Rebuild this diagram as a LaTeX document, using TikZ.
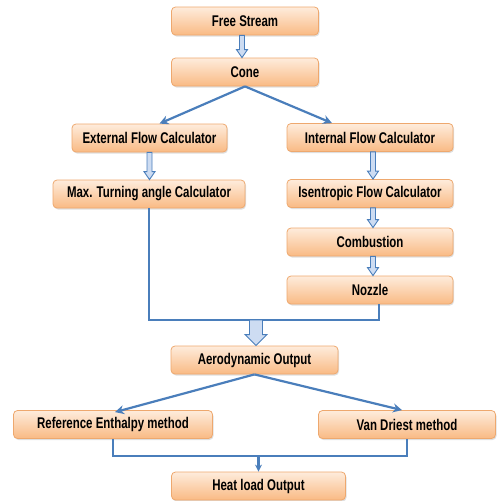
\documentclass[tikz,border=0pt]{standalone}
\usepackage{fontspec}
\setmainfont{Liberation Sans}[FakeStretch=0.74]
\usetikzlibrary{calc,shadows,arrows.meta}

\definecolor{boxtop}{RGB}{254,236,220}
\definecolor{boxbot}{RGB}{249,186,132}
\definecolor{boxline}{RGB}{238,168,110}
\definecolor{flowblue}{RGB}{74,126,187}
\definecolor{hollowfill}{RGB}{205,220,242}

\tikzset{
  stage/.style={rectangle, rounded corners=4pt, draw=boxline, line width=0.8pt,
    top color=boxtop, bottom color=boxbot, minimum height=28pt,
    inner sep=0pt, font=\fontsize{15.5}{17}\selectfont\bfseries,
    drop shadow={opacity=0.25, shadow xshift=1pt, shadow yshift=-1.5pt}},
  flow/.style={draw=flowblue, line width=2.2pt, -{Stealth[length=9pt,width=9pt]}},
  link/.style={draw=flowblue, line width=2.2pt},
  hollow/.style n args={3}{draw=flowblue, fill=hollowfill, line width=0.9pt,
    to path={let \p1=(\tikztostart), \p2=(\tikztotarget) in
      (\x1-#1,\y1) -- (\x1-#1,\y2+#3) -- (\x1-#2,\y2+#3) -- (\x1,\y2)
      -- (\x1+#2,\y2+#3) -- (\x1+#1,\y2+#3) -- (\x1+#1,\y1) -- cycle}}
}

\begin{document}
\begin{tikzpicture}[x=1pt,y=-1pt]
  \useasboundingbox (0,0) rectangle (496,501);

  % Drawing stage boxes
  \node [stage, minimum width=147pt] (fs)   at (245,21)    {Free Stream};
  \node [stage, minimum width=147pt] (cone) at (245,72)    {Cone};
  \node [stage, minimum width=155pt] (ext)  at (149.5,138) {External Flow Calculator};
  \node [stage, minimum width=192pt] (maxt) at (149,194)   {Max. Turning angle Calculator};
  \node [stage, minimum width=166pt] (int)  at (370,137.5) {Internal Flow Calculator};
  \node [stage, minimum width=166pt] (ise)  at (370,193.5) {Isentropic Flow Calculator};
  \node [stage, minimum width=166pt] (comb) at (370,242)   {Combustion};
  \node [stage, minimum width=166pt] (noz)  at (370,290)   {Nozzle};
  \node [stage, minimum width=167pt] (aero) at (254.5,360) {Aerodynamic Output};
  \node [stage, minimum width=199pt] (ref)  at (113,424.5) {Reference Enthalpy method};
  \node [stage, minimum width=177pt] (van)  at (407,424.5) {Van Driest method};
  \node [stage, minimum width=174pt] (heat) at (258.5,486) {Heat load Output};

  % Drawing hollow arrows
  \path [hollow={2.5pt}{5.5pt}{8pt}] ([xshift=-3]fs.south) to ([xshift=-3]cone.north);
  \path [hollow={2.5pt}{5.5pt}{8pt}] (ext.south) to (maxt.north);
  \path [hollow={2.5pt}{5.5pt}{8pt}] ([xshift=3]int.south) to ([xshift=3]ise.north);
  \path [hollow={2.5pt}{5.5pt}{8pt}] ([xshift=3]ise.south) to ([xshift=3]comb.north);
  \path [hollow={2.5pt}{5.5pt}{8pt}] ([xshift=3]comb.south) to ([xshift=3]noz.north);

  % Drawing split from Cone
  \draw [flow] (cone.south) -- ([xshift=10]ext.north);
  \draw [flow] (cone.south) -- ([xshift=-38]int.north);

  % Drawing merge into Aerodynamic Output
  \coordinate (mj) at (256,320);
  \draw [link] (maxt.south) |- (mj) -| ([xshift=9]noz.south);
  \path [hollow={6.5pt}{11pt}{11pt}] (mj) to ([xshift=1.5]aero.north);

  % Drawing split from Aerodynamic Output
  \draw [flow] (aero.south) -- ([xshift=2,yshift=-2]ref.north);
  \draw [flow] (aero.south) -- ([xshift=-5]van.north);

  % Drawing merge into Heat load Output
  \coordinate (hj) at (258.5,456);
  \draw [link] (ref.south) |- (hj) -| (van.south);
  \draw [flow, -{Stealth[length=7pt,width=7pt]}] (hj) -- (heat.north);
\end{tikzpicture}
\end{document}
